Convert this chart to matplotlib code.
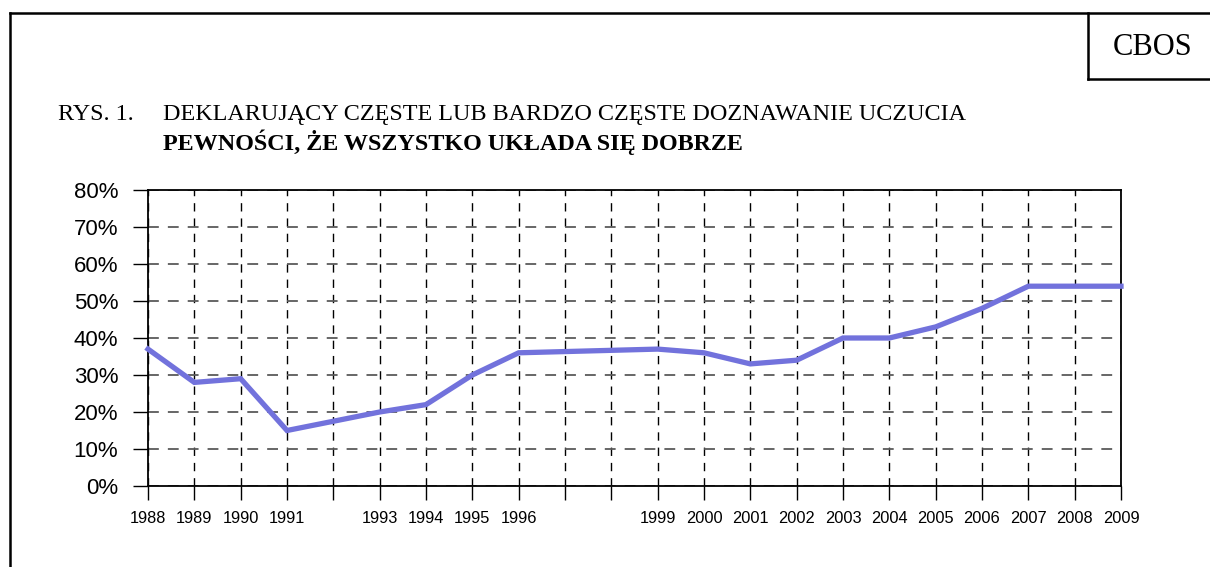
import matplotlib
matplotlib.use("Agg")
import matplotlib.pyplot as plt
from matplotlib.lines import Line2D
from matplotlib.ticker import FuncFormatter

# ---------- dane ----------
years = [1988, 1989, 1990, 1991, 1993, 1994, 1995, 1996, 1999, 2000,
         2001, 2002, 2003, 2004, 2005, 2006, 2007, 2008, 2009]
values = [37, 28, 29, 15, 20, 22, 30, 36, 37, 36,
          33, 34, 40, 40, 43, 48, 54, 54, 54]
all_years = list(range(1988, 2010))
y_ticks = [0, 10, 20, 30, 40, 50, 60, 70, 80]

fig_label = "RYS. 1."
title_1 = "DEKLARUJĄCY CZĘSTE LUB BARDZO CZĘSTE DOZNAWANIE UCZUCIA"
title_2 = "PEWNOŚCI, ŻE WSZYSTKO UKŁADA SIĘ DOBRZE"

W, H = 1210, 567
fig = plt.figure(figsize=(W / 100, H / 100), dpi=100)

# pozycja osi w pikselach -> ułamki figury
left, right, top, bottom = 148, 1121, 190, 486
ax = fig.add_axes([left / W, 1 - bottom / H, (right - left) / W, (bottom - top) / H])

ax.plot(years, values, color="#7272dc", linewidth=3.8, solid_joinstyle="miter",
        clip_on=False, zorder=5)

ax.set_xlim(1988, 2009)
ax.set_ylim(0, 80)
ax.set_xticks(all_years)
ax.set_xticklabels([str(y) if y in years else "" for y in all_years],
                   fontsize=11.8, family="Liberation Sans")
ax.set_yticks(y_ticks)
ax.yaxis.set_major_formatter(FuncFormatter(lambda v, p: f"{int(v)}%"))
for lab in ax.get_yticklabels():
    lab.set_family("Liberation Sans")
    lab.set_fontsize(16)

ax.tick_params(axis="y", direction="out", length=10.5, width=1, pad=11)
ax.tick_params(axis="x", direction="out", length=10, width=1, pad=8)

# siatka: pionowa czarna, pozioma szara
ax.xaxis.grid(True, color="black", linestyle=(0, (6, 5)), linewidth=1)
ax.yaxis.grid(True, color="#5a5a5a", linestyle=(0, (6, 5)), linewidth=1.3)
ax.set_axisbelow(True)
for s in ax.spines.values():
    s.set_linewidth(1.3)
    s.set_color("black")

# tytuł
fig.text(58 / W, 1 - 120 / H, fig_label, family="Liberation Serif", fontsize=17.4,
         ha="left", va="baseline")
fig.text(163 / W, 1 - 120 / H, title_1, family="Liberation Serif", fontsize=17.4,
         ha="left", va="baseline")
fig.text(163 / W, 1 - 150 / H, title_2, family="Liberation Serif", fontsize=17.4,
         fontweight="bold", ha="left", va="baseline")

# ramka i znacznik CBOS
lw = 1.8
fig.add_artist(Line2D([10 / W, 10 / W], [0, 1 - 13 / H], color="black", lw=lw))
fig.add_artist(Line2D([10 / W, 1], [1 - 13 / H, 1 - 13 / H], color="black", lw=lw))
fig.add_artist(Line2D([1088 / W, 1088 / W], [1 - 13 / H, 1 - 79 / H], color="black", lw=lw))
fig.add_artist(Line2D([1088 / W, 1], [1 - 79 / H, 1 - 79 / H], color="black", lw=lw))
fig.text(1153 / W, 1 - 55 / H, "CBOS", family="Liberation Serif", fontsize=22,
         ha="center", va="baseline")

fig.savefig("out.png", dpi=100)
